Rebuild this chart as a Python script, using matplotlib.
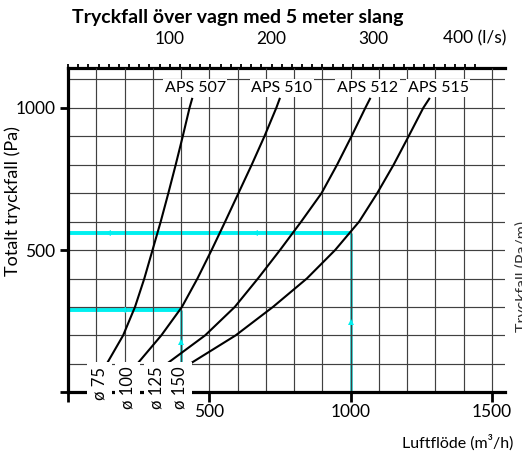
import matplotlib
matplotlib.use('Agg')
import matplotlib.pyplot as plt
from matplotlib.ticker import FixedLocator
import numpy as np

plt.rcParams['font.family'] = ['Lato', 'DejaVu Sans']

# ---- data ----
pressure_pa = [100, 200, 300, 400, 500, 600, 700, 800, 900, 1000, 1035]
flow_aps507 = [137, 195, 237, 270, 299, 328, 355, 381, 406, 430, 440]
flow_aps510 = [245, 330, 403, 458, 508, 556, 603, 650, 695, 737, 750]
flow_aps512 = [349, 485, 590, 672, 750, 825, 897, 952, 1003, 1052, 1070]
flow_aps515 = [431, 593, 725, 845, 945, 1030, 1094, 1152, 1205, 1257, 1280]

models = ['APS 507', 'APS 510', 'APS 512', 'APS 515']
model_label_flow = [450, 757, 1060, 1309]
model_label_pa = 1070
diameters = ['ø 75', 'ø 100', 'ø 125', 'ø 150']
diameter_label_flow = [113, 212, 313, 396]
diameter_label_pa = 90

x_ticks = [0, 500, 1000, 1500]
x_ticklabels = ['', '500', '1000', '1500']
y_ticks = [0, 500, 1000]
y_ticklabels = ['', '500', '1000']
top_ticks_ls = [100, 200, 300, 400]
top_ticklabels = ['100', '200', '300', '400 (l/s)']
top_minor_ls = list(range(0, 401, 10))
grid_x = list(range(100, 1501, 100))
grid_y = list(range(100, 1101, 100))

# reading examples (cyan)
ex_flow = [1000, 400]
ex_pa = [560, 290]
ex_left_arrows = [(141, 560), (661, 560), (195, 290)]
ex_up_arrows = [(1000, 248), (400, 178)]

W, H = 522, 454
fig = plt.figure(figsize=(W / 100, H / 100), dpi=100)
x0, x1, y0, y1 = 68, 505, 392.3, 68
ax = fig.add_axes([x0 / W, 1 - y0 / H, (x1 - x0) / W, (y0 - y1) / H])
ax.set_xlim(0, 1546)
ax.set_ylim(0, 1140)

gcol = '#404040'
ax.vlines(grid_x, 0, 1140, color=gcol, lw=0.85, zorder=1.2)
ax.hlines(grid_y, 0, 1546, color=gcol, lw=0.85, zorder=1.2)

cyan = '#00F0F0'
for f, p in zip(ex_flow, ex_pa):
    ax.hlines(p, 0, f, color=cyan, lw=2.8, zorder=1.1)
    ax.vlines(f, 0, p, color='#10C8C8', lw=1.8, zorder=1.1)
for (f, p) in ex_left_arrows:
    ax.plot(f, p, marker='<', ms=4, color=cyan, mew=0, zorder=1.3)
for (f, p) in ex_up_arrows:
    ax.plot(f, p, marker='^', ms=4, color=cyan, mew=0, zorder=1.3)

for flows in [flow_aps507, flow_aps510, flow_aps512, flow_aps515]:
    ax.plot(flows, pressure_pa, color='black', lw=1.5, zorder=2,
            solid_capstyle='butt', solid_joinstyle='round')

for name, fx in zip(models, model_label_flow):
    ax.text(fx, model_label_pa, name, ha='center', va='center', fontsize=11.5,
            bbox=dict(facecolor='white', edgecolor='none', pad=1.2), zorder=4)

for name, fx in zip(diameters, diameter_label_flow):
    ax.text(fx, diameter_label_pa, name, ha='center', va='top', rotation=90,
            fontsize=12, clip_on=False,
            bbox=dict(facecolor='white', edgecolor='none', pad=3.2), zorder=5)

for s in ['right', 'top']:
    ax.spines[s].set_visible(False)
for s in ['left', 'bottom']:
    ax.spines[s].set_linewidth(2.3)

ax.set_xticks(x_ticks, labels=x_ticklabels)
ax.set_yticks(y_ticks, labels=y_ticklabels)
ax.tick_params(axis='x', direction='out', length=7, width=2, pad=1.5, labelsize=12.5)
ax.tick_params(axis='y', direction='out', length=6, width=2, pad=3, labelsize=12.5)

sec = ax.secondary_xaxis('top', functions=(lambda q: np.asarray(q) / 3.6,
                                           lambda v: np.asarray(v) * 3.6))
sec.set_xticks(top_ticks_ls, labels=top_ticklabels)
sec.xaxis.set_minor_locator(FixedLocator(top_minor_ls))
sec.tick_params(which='both', direction='out', length=3.2, width=1.3)
sec.tick_params(which='major', pad=12, labelsize=12.5)
sec.spines['top'].set_linewidth(2.3)

fig.text(72 / W, 1 - 17 / H, 'Tryckfall över vagn med 5 meter slang',
         ha='left', va='center', fontsize=14, weight='bold')
fig.text(13 / W, 1 - 201 / H, 'Totalt tryckfall (Pa)', rotation=90,
         ha='center', va='center', fontsize=13)
fig.text(513 / W, 1 - 443 / H, 'Luftflöde (m³/h)', ha='right', va='center',
         fontsize=11.5)
fig.text(515 / W, 1 - 276 / H, 'Tryckfall (Pa/m)', rotation=90,
         ha='left', va='center', fontsize=11.5, color='#333333')

fig.savefig('out.png', dpi=100)
